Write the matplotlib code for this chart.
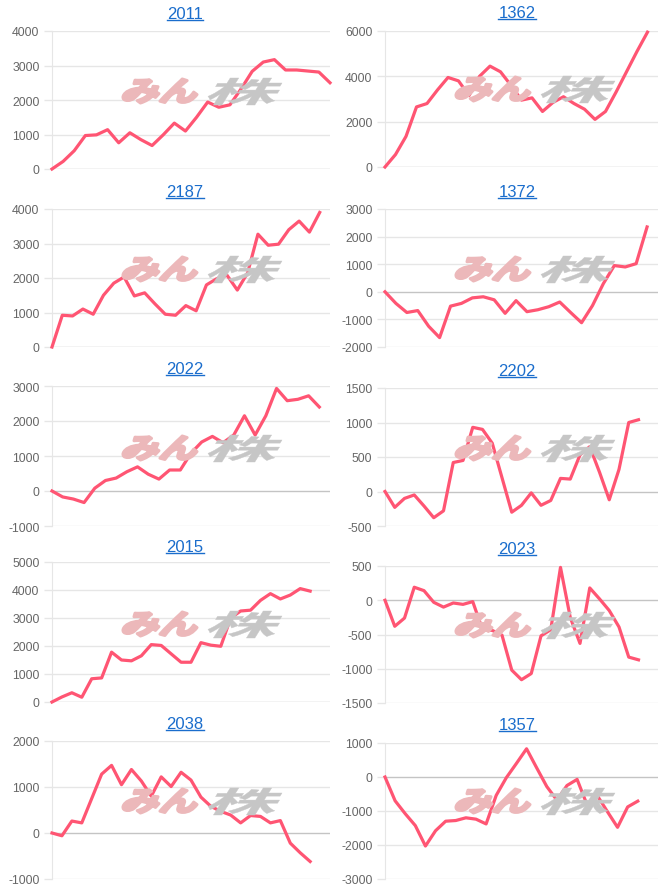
import numpy as np
import matplotlib
matplotlib.use('Agg')
import matplotlib.pyplot as plt
from matplotlib.lines import Line2D
from matplotlib.textpath import TextPath
from matplotlib.patches import PathPatch
from matplotlib.font_manager import FontProperties
from matplotlib.transforms import Affine2D

# values per chart (None = date slot without a value)
s2011 = [0, 220, 530, 970, 990, 1140, 760, 1050, 850, 680, 990, 1330, 1100, 1500,
         1940, 1790, 1860, 2320, 2830, 3100, 3170, 2870, 2870, 2840, 2810, 2500]
s1362 = [0, 550, 1350, 2650, 2800, 3400, 3950, 3800, 3150, 4000, 4450, 4200, 3600,
         2950, 3050, 2450, 2850, 3100, 2800, 2550, 2100, 2450, 3300, 4200, 5100, 5950, None]
s2187 = [0, 920, 900, 1100, 950, 1500, 1850, 2030, 1480, 1570, 1250, 950, 920, 1200,
         1050, 1800, 1980, 2080, 1650, 2150, 3270, 2950, 2980, 3400, 3650, 3330, 3900, None]
s1372 = [0, -420, -750, -680, -1250, -1660, -520, -420, -220, -180, -290, -780, -320,
         -720, -650, -540, -370, -750, -1120, -500, 300, 950, 900, 1020, 2350, None]
s2022 = [0, -170, -230, -330, 80, 300, 370, 550, 690, 480, 340, 600, 600, 1080, 1400,
         1560, 1380, 1600, 2150, 1600, 2150, 2930, 2580, 2620, 2720, 2400, None]
s2202 = [0, -230, -100, -50, -210, -380, -280, 420, 450, 930, 900, 700, 200, -300,
         -200, -20, -200, -130, 190, 180, 530, 650, 280, -120, 320, 1000, 1040, None, None]
s2015 = [0, 180, 330, 170, 830, 860, 1780, 1500, 1470, 1650, 2050, 2020, 1720, 1420,
         1420, 2120, 2030, 1990, 3000, 3250, 3280, 3630, 3870, 3680, 3820, 4050, 3960, None, None]
s2023 = [0, -380, -260, 190, 140, -30, -100, -40, -60, -20, -430, -440, -510, -1020,
         -1160, -1070, -520, -430, 480, -250, -630, 180, 20, -150, -390, -830, -870, None, None]
s2038 = [0, -60, 260, 220, 750, 1280, 1470, 1050, 1380, 1130, 800, 1220, 1010, 1320,
         1150, 780, 580, 470, 390, 220, 380, 360, 220, 270, -220, -430, -620, None, None]
s1357 = [0, -700, -1080, -1430, -2030, -1580, -1300, -1280, -1200, -1240, -1380, -540,
         -20, 400, 830, 270, -280, -680, -250, -70, -830, -550, -1020, -1480, -880, -710, None, None]

codes = ["2011", "1362", "2187", "1372", "2022", "2202", "2015", "2023", "2038", "1357"]
series = [s2011, s1362, s2187, s1372, s2022, s2202, s2015, s2023, s2038, s1357]
yranges = [(0, 4000, 1000), (0, 6000, 2000), (0, 4000, 1000), (-2000, 3000, 1000),
           (-1000, 3000, 1000), (-500, 1500, 500), (0, 5000, 1000), (-1500, 500, 500),
           (-1000, 2000, 1000), (-3000, 1000, 1000)]

W, H = 666, 887
fig = plt.figure(figsize=(W / 100, H / 100), dpi=100)

RED = '#ff5573'
GRID = '#e6e6e6'
ZERO = '#c4c4c4'
BLUE = '#1a6dcc'
cols = [(52, 330), (385, 658)]
rows = [[(32, 170), (32, 168)], [(210, 348), (210, 348)], [(387, 527), (389, 527)],
        [(563, 703), (567, 704)], [(742, 880), (744, 880)]]
title_x = [185, 517]
title_base = [[19, 18], [197, 197], [374, 376], [552, 554], [729, 730]]

fp = FontProperties(family='Noto Sans CJK JP', weight='bold')


def logo(ax_x0, ax_y1, text, box, color, stroke):
    # skewed text path squeezed into a pixel box measured from the axes' lower left
    p = TextPath((0, 0), text, size=1, prop=fp)
    p = Affine2D().skew_deg(14, 0).transform_path(p)
    e = p.get_extents()
    bx0, bx1, by0, by1 = box
    tr = (Affine2D().translate(-e.x0, -e.y0)
          .scale((bx1 - bx0) / e.width, (by1 - by0) / e.height)
          .translate(ax_x0 + bx0, (H - ax_y1) + by0)
          .scale(1 / W, 1 / H) + fig.transFigure)
    fig.add_artist(PathPatch(p, transform=tr, facecolor=color, edgecolor=color,
                             lw=stroke, joinstyle='round', zorder=0.5))


for i, (code, vals, (lo, hi, step)) in enumerate(zip(codes, series, yranges)):
    r, c = divmod(i, 2)
    x0, x1 = cols[c]
    y0, y1 = rows[r][c]

    logo(x0, y1, 'みん', (71, 145, 66, 90), '#ecb8ba', 2.2)
    logo(x0, y1, '株', (156, 230, 64, 91), '#c6c6c6', 0.3)

    ax = fig.add_axes([x0 / W, 1 - y1 / H, (x1 - x0) / W, (y1 - y0) / H])
    y = np.array(vals, dtype=float)
    x = np.arange(len(y))
    ticks = np.arange(lo, hi + 1, step)
    for t in ticks:
        ax.axhline(t, color=ZERO if t == 0 else GRID, lw=1, zorder=1)
    ax.plot(x, y, color=RED, lw=2.3, solid_joinstyle='round', zorder=3, clip_on=False)
    ax.set_xlim(0, len(y) - 1)
    ax.set_ylim(lo, hi)
    ax.set_yticks(ticks)
    ax.set_yticklabels([str(t) for t in ticks], fontsize=8.8, color='#666666',
                       family='Liberation Sans')
    ax.set_xticks([])
    ax.tick_params(axis='y', length=6, width=1, color=GRID, pad=3)
    for s in ['top', 'right', 'bottom']:
        ax.spines[s].set_visible(False)
    ax.spines['left'].set_color(GRID)
    ax.patch.set_visible(False)

    # title with underline
    fig.text(title_x[c] / W, 1 - title_base[r][c] / H, code, ha='center', va='baseline',
             fontsize=12, color=BLUE, family='Liberation Sans')

fig.canvas.draw()
renderer = fig.canvas.get_renderer()
for txt in list(fig.texts):
    bb = txt.get_window_extent(renderer)
    yb = txt.get_position()[1] * H - 2
    fig.add_artist(Line2D([bb.x0 / W, bb.x1 / W], [yb / H, yb / H],
                          color=BLUE, lw=1, transform=fig.transFigure))

fig.savefig('out.png', dpi=100)
